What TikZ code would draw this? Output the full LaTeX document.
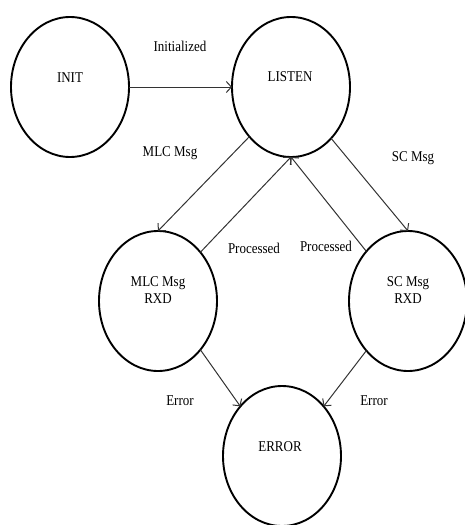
\documentclass[tikz,border=0pt]{standalone}
\usepackage{fontspec}
\setmainfont{Liberation Serif}
\usetikzlibrary{shapes.geometric,arrows.meta}
\begin{document}
\begin{tikzpicture}[x=1pt,y=-1pt,
  state/.style={ellipse,draw=black,line width=1.9pt,minimum width=118pt,minimum height=140pt,inner sep=0pt,outer sep=0pt},
  txt/.style={font=\fontsize{13}{15}\selectfont,inner sep=0pt,align=center,yscale=1.15,transform shape},
  edge/.style={draw=black!80,line width=1pt,-{Straight Barb[length=5pt,width=11pt]}}]
\useasboundingbox (0,0) rectangle (464,525);
\node[state] (init) at (70,87) {};
\node[state] (listen) at (291,87) {};
\node[state] (mlc) at (158,301) {};
\node[state] (sc) at (408,301) {};
\node[state] (error) at (282,456) {};
\node[txt] (tinit) at (70,78) {INIT};
\node[txt] (tlisten) at (290,77) {LISTEN};
\node[txt] (tmlc) at (158,290) {MLC Msg\\RXD};
\node[txt] (tsc) at (408,290) {SC Msg\\RXD};
\node[txt] (terror) at (280,447) {ERROR};
\node[txt] (linit) at (180,46) {Initialized};
\node[txt] (lmlc) at (170,153) {MLC Msg};
\node[txt] (lsc) at (413,158) {SC Msg};
\node[txt] (lp1) at (254,248) {Processed};
\node[txt] (lp2) at (326,246) {Processed};
\node[txt] (le1) at (180,401) {Error};
\node[txt] (le2) at (374,401) {Error};
\draw[edge] (init.east) -- (listen.west);
\draw[edge] (listen.230) -- (mlc.north);
\draw[edge] (listen.308) -- (sc.north);
\draw[edge] (mlc.49) -- (listen.south);
\draw[edge] (sc.130) -- (listen.south);
\draw[edge] (mlc.311) -- (error.130);
\draw[edge] (sc.230) -- (error.50);
\end{tikzpicture}
\end{document}
